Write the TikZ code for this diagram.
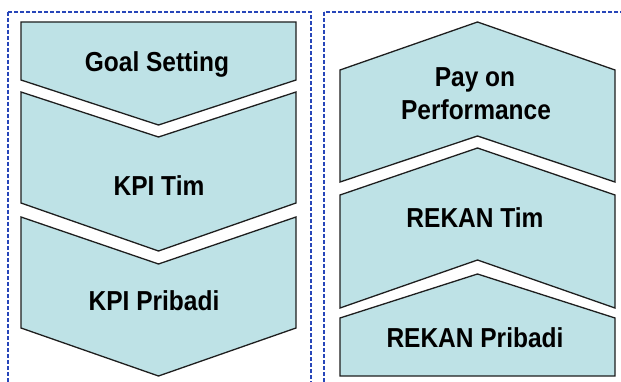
\documentclass[tikz,border=0pt]{standalone}
\usepackage{fontspec}
\setmainfont{Liberation Sans}
\definecolor{chevfill}{RGB}{190,226,230}
\definecolor{chevline}{RGB}{30,30,30}
\definecolor{dashblue}{RGB}{40,70,185}
\tikzset{
  chev/.style={draw=chevline, fill=chevfill, line width=1.3pt, line join=miter},
  frame/.style={draw=dashblue, line width=2.2pt, dash pattern=on 4pt off 2pt},
  lbl/.style={anchor=base, inner sep=0pt, font=\bfseries\fontsize{24.5}{28}\selectfont, text=black}
}
\newcommand{\tallt}[1]{\scalebox{1}[1.12]{#1}}
\begin{document}
\begin{tikzpicture}[x=1pt,y=-1pt]
\clip (0,0) rectangle (621,382);
\fill[white] (0,0) rectangle (621,382);
% frames
\draw[frame] (8,12) rectangle (311,395);
\draw[frame] (324,12) rectangle (640,395);
% left column
\draw[chev] (21,22) -- (296,22) -- (296,80) -- (158.5,125) -- (21,80) -- cycle;
\draw[chev] (21,92) -- (158.5,137) -- (296,92) -- (296,203) -- (158.5,251) -- (21,203) -- cycle;
\draw[chev] (21,217) -- (158.5,264) -- (296,217) -- (296,328) -- (158.5,376) -- (21,328) -- cycle;
\node[lbl] (goal) at (157,72) {\tallt{Goal Setting}};
\node[lbl] (kpitim) at (159,196) {\tallt{KPI Tim}};
\node[lbl] (kpipri) at (154,310) {\tallt{KPI Pribadi}};
% right column
\draw[chev] (340,70) -- (477.5,22) -- (615,70) -- (615,182) -- (477.5,136) -- (340,182) -- cycle;
\draw[chev] (340,195) -- (477.5,148) -- (615,195) -- (615,308) -- (477.5,260) -- (340,308) -- cycle;
\draw[chev] (340,318) -- (477.5,274) -- (615,318) -- (615,376) -- (340,376) -- cycle;
\node[lbl] (payon) at (475,87) {\tallt{Pay on}};
\node[lbl] (perf) at (476,120) {\tallt{Performance}};
\node[lbl] (rekantim) at (475,227) {\tallt{REKAN Tim}};
\node[lbl] (rekanpri) at (475,347) {\tallt{REKAN Pribadi}};
\end{tikzpicture}
\end{document}
